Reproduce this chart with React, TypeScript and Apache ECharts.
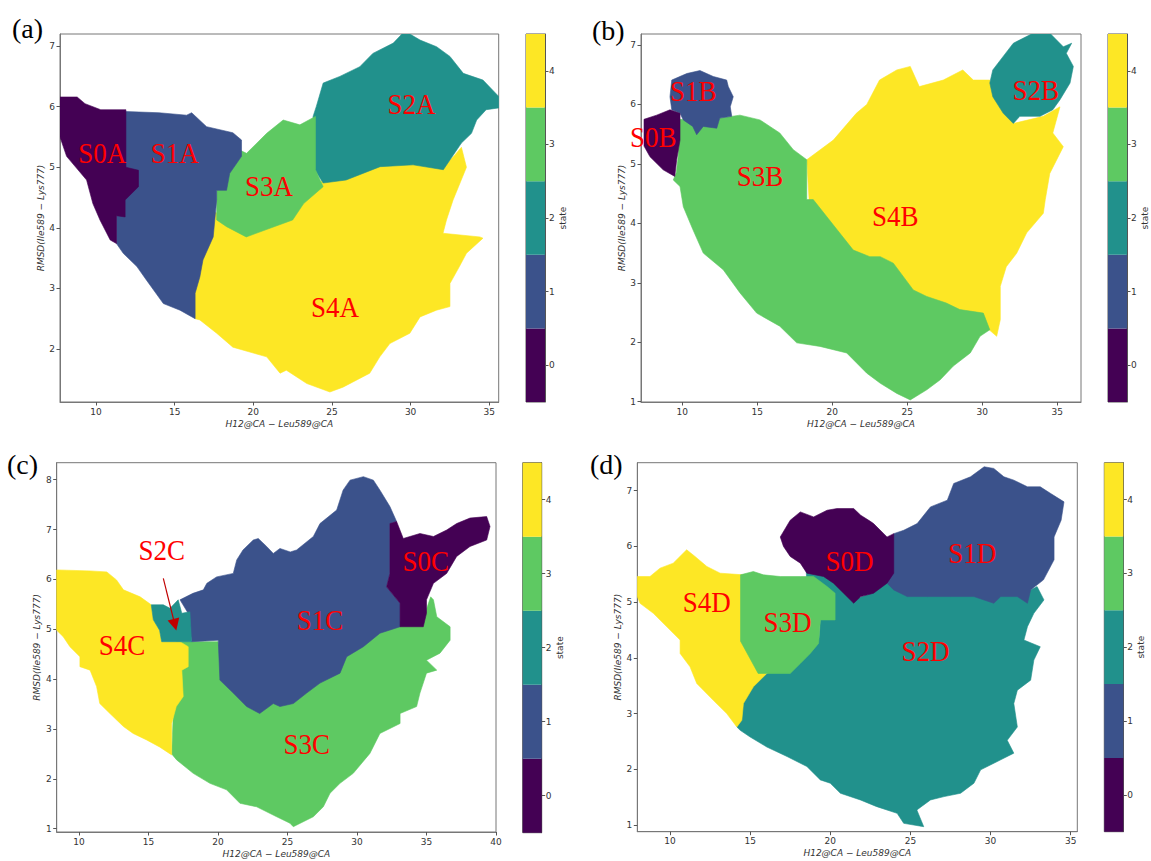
import React, { useEffect, useRef } from "react";
import * as echarts from "echarts";

// ---------- shared ----------
const stateLevels = [0, 1, 2, 3, 4];
const stateColors = ["#440154", "#3b528b", "#21918c", "#5ec962", "#fde725"];
const colorbarTicks = [0, 1, 2, 3, 4];
const xAxisName = "H12@CA \u2212 Leu589@CA";
const yAxisName = "RMSD(Ile589 \u2212 Lys777)";
const colorbarName = "state";

// ---------- panel (a) ----------
const A_xRange = [7.71, 35.6];
const A_yRange = [1.125, 7.2];
const A_xTicks = [10, 15, 20, 25, 30, 35];
const A_yTicks = [2, 3, 4, 5, 6, 7];
const A_S4 = [[17.0,4.25],[17.67,4.25],[18.3,4.1],[19.55,3.92],[22.3,4.2],[23.2,4.48],[24.44,4.8],[25.9,4.85],[28.06,5.06],[30.16,5.1],[32.08,5.0],[32.8,5.2],[33.23,5.33],[33.55,5.0],[32.7,4.46],[32.28,4.13],[32.06,3.91],[34.4,3.85],[34.6,3.83],[33.55,3.58],[33.1,3.36],[32.5,3.08],[32.5,2.7],[31.64,2.64],[30.6,2.53],[29.95,2.26],[28.68,2.09],[28.04,1.87],[27.4,1.6],[25.7,1.37],[24.87,1.29],[23.4,1.43],[22.1,1.65],[21.7,1.6],[20.85,1.87],[18.7,2.03],[17.67,2.26],[16.6,2.48],[16.3,2.5],[16.1,3.0],[16.5,3.5]];
const A_S2 = [[23.8,5.84],[24.0,6.0],[24.44,6.39],[25.5,6.5],[26.77,6.66],[27.6,6.88],[28.9,7.05],[29.63,7.25],[30.6,7.1],[31.65,6.99],[32.5,6.83],[33.35,6.55],[34.6,6.44],[35.6,6.17],[35.6,5.98],[34.8,5.95],[34.2,5.78],[33.87,5.56],[33.23,5.4],[32.5,5.12],[32.08,4.96],[30.16,5.04],[28.06,5.01],[25.9,4.79],[24.44,4.74],[23.9,4.96]];
const A_S3 = [[17.67,4.13],[17.67,5.1],[19.0,5.3],[19.57,5.23],[20.85,5.56],[21.9,5.78],[22.96,5.7],[23.95,5.84],[23.95,4.96],[24.44,4.68],[23.2,4.4],[22.5,4.13],[19.55,3.85],[18.3,4.02]];
const A_S1 = [[11.3,5.93],[11.9,5.92],[14.0,5.9],[15.76,5.86],[16.08,5.9],[17.03,5.67],[18.7,5.57],[19.25,5.45],[19.25,5.18],[18.5,4.9],[18.3,4.62],[17.67,4.62],[17.67,4.46],[17.45,3.85],[16.8,3.47],[16.6,3.19],[16.3,2.92],[16.3,2.5],[15.34,2.64],[14.28,2.75],[13.2,3.14],[12.6,3.36],[11.73,3.58],[11.3,3.74]];
const A_S0 = [[7.71,6.16],[8.8,6.16],[9.3,6.05],[10.3,5.95],[11.9,5.95],[11.9,5.0],[12.7,4.95],[12.7,4.68],[11.85,4.46],[11.85,4.18],[11.3,4.2],[11.3,3.74],[10.9,3.8],[10.25,4.13],[9.8,4.4],[9.4,4.79],[8.13,5.18],[7.71,5.5]];
const A_labels = [[10.4,5.24,"S0A"],[15.0,5.24,"S1A"],[21.0,4.69,"S3A"],[30.05,6.05,"S2A"],[25.2,2.7,"S4A"]];

// ---------- panel (b) ----------
const B_xRange = [7.25, 36.58];
const B_yRange = [0.995, 7.185];
const B_xTicks = [10, 15, 20, 25, 30, 35];
const B_yTicks = [1, 2, 3, 4, 5, 6, 7];
const B_S4 = [[18.3,5.07],[20.07,5.4],[21.6,5.85],[22.3,6.0],[23.15,6.41],[24.3,6.58],[25.2,6.64],[25.8,6.3],[27.4,6.41],[28.7,6.58],[29.4,6.41],[30.5,6.41],[30.7,6.19],[32.07,5.68],[34.07,5.8],[35.18,5.96],[34.7,5.52],[35.4,5.29],[34.5,4.84],[34.2,4.4],[34.07,4.17],[32.96,3.84],[32.3,3.5],[31.6,3.27],[31.2,2.94],[31.2,2.38],[30.96,2.1],[30.5,2.2],[28.5,2.4],[24.0,3.0],[21.0,3.4],[18.5,4.2]];
const B_S3 = [[9.85,5.75],[10.5,5.74],[12.5,5.77],[13.85,5.82],[15.18,5.74],[16.5,5.52],[17.4,5.24],[18.3,5.07],[18.3,4.4],[18.73,4.4],[20.3,3.9],[21.4,3.55],[22.5,3.44],[23.2,3.44],[24.07,3.33],[25.4,2.88],[26.3,2.77],[27.6,2.66],[28.5,2.55],[30.07,2.49],[30.5,2.21],[29.85,2.1],[29.2,1.82],[28.07,1.6],[27.2,1.37],[26.3,1.2],[25.2,1.03],[24.3,1.14],[23.2,1.31],[22.3,1.48],[20.96,1.82],[19.18,1.93],[17.63,1.99],[16.5,2.27],[14.96,2.49],[13.85,2.83],[12.73,3.22],[11.4,3.5],[10.7,3.9],[10.07,4.28],[9.85,4.62],[9.4,4.73],[9.6,4.85],[9.73,5.12]];
const B_S1 = [[9.18,6.13],[9.3,6.41],[10.3,6.52],[11.18,6.57],[12.07,6.47],[12.96,6.41],[13.07,6.3],[13.4,6.13],[13.2,5.96],[13.3,5.8],[12.5,5.77],[12.3,5.6],[11.4,5.63],[10.96,5.49],[10.7,5.63],[10.07,5.74],[9.85,5.85],[9.3,5.91]];
const B_S0 = [[7.45,5.75],[8.29,5.82],[9.18,5.91],[9.85,5.85],[9.85,5.4],[9.63,5.07],[9.5,4.79],[8.73,4.9],[7.85,5.12],[7.45,5.3]];
const B_S2 = [[30.5,6.36],[30.7,6.58],[32.07,7.03],[33.4,7.2],[34.5,7.2],[35.4,6.97],[35.96,7.03],[35.6,6.86],[36.07,6.64],[35.85,6.36],[35.18,6.08],[34.7,5.91],[33.85,5.8],[32.5,5.8],[32.07,5.68],[31.4,5.85],[30.7,6.13]];
const B_labels = [[8.07,5.46,"S0B"],[10.73,6.22,"S1B"],[15.18,4.79,"S3B"],[24.2,4.13,"S4B"],[33.56,6.24,"S2B"]];

// ---------- panel (c) ----------
const C_xRange = [8.4, 40];
const C_yRange = [0.934, 8.34];
const C_xTicks = [10, 15, 20, 25, 30, 35, 40];
const C_yTicks = [1, 2, 3, 4, 5, 6, 7, 8];
const C_S3 = [[17.0,4.75],[20.0,4.75],[21.0,3.9],[23.0,3.5],[25.0,3.6],[28.0,4.3],[30.5,4.8],[33.1,5.15],[34.77,5.1],[35.0,5.4],[35.3,5.65],[35.5,5.59],[35.74,5.25],[36.7,5.05],[36.7,4.78],[35.97,4.52],[35.0,4.38],[35.74,4.18],[35.0,4.12],[34.53,3.72],[34.29,3.45],[33.1,3.31],[33.1,3.11],[31.65,2.91],[30.93,2.51],[29.73,2.11],[28.78,1.91],[28.06,1.71],[27.58,1.44],[26.86,1.24],[25.42,1.04],[25.18,1.11],[24.22,1.24],[22.78,1.44],[21.58,1.51],[20.62,1.78],[19.42,1.91],[18.22,2.11],[17.03,2.38],[16.67,2.5]];
const C_S1 = [[17.27,5.59],[18.2,5.72],[18.95,5.79],[19.2,5.92],[19.9,6.05],[21.1,6.12],[21.35,6.39],[21.8,6.59],[22.54,6.79],[22.9,6.82],[23.5,6.66],[23.98,6.52],[24.46,6.62],[25.2,6.55],[25.66,6.59],[26.86,6.86],[27.34,7.12],[28.54,7.39],[29.0,7.79],[29.5,7.99],[30.46,8.06],[31.18,7.99],[31.65,7.79],[32.37,7.46],[32.85,7.16],[32.37,7.12],[32.37,6.12],[32.13,5.85],[33.1,5.52],[33.1,5.05],[31.65,4.92],[30.46,4.65],[29.26,4.45],[28.78,4.12],[27.34,3.92],[26.38,3.72],[25.42,3.51],[24.46,3.45],[23.98,3.51],[23.0,3.31],[22.06,3.45],[21.1,3.72],[20.14,3.98],[20.02,4.78],[18.1,4.75],[17.9,5.3]];
const C_S0 = [[32.37,7.12],[32.85,7.16],[33.33,6.82],[34.53,6.92],[35.5,6.86],[36.45,6.99],[37.17,7.12],[38.13,7.23],[39.33,7.26],[39.57,7.06],[39.33,6.79],[38.13,6.66],[37.17,6.46],[36.45,6.12],[35.5,5.92],[35.0,5.59],[35.0,5.32],[34.77,5.05],[33.1,5.05],[33.1,5.52],[32.13,5.85],[32.37,6.12]];
const C_S4 = [[8.4,6.19],[10.8,6.17],[12.0,6.15],[12.7,5.99],[13.2,5.79],[14.4,5.65],[15.2,5.49],[15.35,5.19],[15.8,4.98],[15.95,4.75],[17.27,4.75],[17.86,4.65],[17.86,4.25],[17.4,4.18],[17.5,3.65],[17.0,3.45],[16.67,3.11],[16.67,2.48],[15.8,2.64],[14.87,2.78],[13.9,2.91],[13.2,3.05],[12.23,3.31],[11.5,3.51],[11.27,3.85],[10.8,4.18],[10.07,4.25],[10.07,4.45],[9.35,4.65],[8.87,4.85],[8.4,4.98]];
const C_S2 = [[15.2,5.49],[16.07,5.49],[16.55,5.42],[17.14,5.59],[17.4,5.32],[17.98,5.35],[18.1,4.75],[15.95,4.75],[15.8,4.98],[15.35,5.19]];
const C_labels = [[15.95,6.59,"S2C"],[13.1,4.68,"S4C"],[27.34,5.19,"S1C"],[34.94,6.36,"S0C"],[26.38,2.7,"S3C"]];
const C_arrow = [[16.07,6.02],[16.9,5.09]];

// ---------- panel (d) ----------
const D_xRange = [7.96, 35.41];
const D_yRange = [0.88, 7.503];
const D_xTicks = [10, 15, 20, 25, 30, 35];
const D_yTicks = [1, 2, 3, 4, 5, 6, 7];
const D_S2 = [[14.17,2.76],[14.6,3.3],[15.4,3.6],[16.5,3.8],[17.5,3.8],[18.7,4.15],[19.3,4.35],[19.4,4.75],[18.6,5.0],[18.5,5.56],[19.6,5.52],[20.3,5.38],[20.9,5.2],[21.5,5.05],[22.5,5.15],[23.5,5.4],[24.0,5.3],[26.0,5.25],[30.0,5.2],[32.08,5.15],[32.9,5.28],[33.33,5.04],[32.7,4.8],[32.3,4.56],[32.08,4.32],[33.1,4.2],[32.7,3.96],[32.5,3.6],[31.67,3.42],[31.45,3.18],[31.67,2.76],[31.04,2.52],[31.45,2.29],[30.63,2.17],[29.38,1.99],[28.96,1.75],[28.13,1.57],[27.1,1.51],[26.25,1.45],[25.4,1.27],[25.83,0.97],[24.58,1.03],[24.17,1.21],[22.9,1.33],[21.88,1.45],[20.63,1.57],[20.0,1.75],[19.38,1.81],[18.54,2.05],[17.3,2.23],[16.04,2.4],[15.0,2.58],[14.38,2.7]];
const D_S1 = [[23.96,6.23],[24.58,6.29],[25.42,6.41],[26.25,6.71],[27.3,6.83],[27.7,7.13],[28.75,7.25],[29.6,7.43],[30.2,7.4],[30.83,7.25],[31.45,7.19],[32.3,7.07],[33.1,7.07],[33.75,6.95],[34.58,6.8],[34.4,6.47],[33.96,6.17],[33.96,5.76],[33.3,5.4],[32.5,5.22],[32.3,4.98],[31.67,5.1],[30.63,5.1],[30.2,4.98],[28.96,5.1],[27.5,5.1],[26.04,5.1],[24.8,5.1],[23.96,5.22],[23.54,5.34],[23.5,6.0]];
const D_S0 = [[16.88,6.17],[17.5,6.47],[18.13,6.62],[18.96,6.53],[19.8,6.65],[20.42,6.68],[21.46,6.68],[21.9,6.56],[22.5,6.45],[22.7,6.41],[23.54,6.17],[23.96,6.23],[23.96,5.52],[23.54,5.34],[22.7,5.16],[21.9,5.1],[21.46,4.98],[20.83,5.16],[20.2,5.34],[19.58,5.46],[18.54,5.52],[18.13,5.7],[17.5,5.82],[17.08,6.0]];
const D_S4 = [[7.96,5.46],[8.75,5.46],[9.38,5.61],[10.2,5.7],[11.04,5.94],[11.56,5.82],[12.3,5.64],[13.13,5.52],[14.58,5.49],[14.58,4.32],[15.2,4.14],[15.94,3.96],[16.04,3.72],[15.2,3.48],[14.58,3.18],[14.48,2.88],[14.17,2.76],[13.54,3.0],[12.7,3.24],[11.67,3.54],[11.25,3.84],[10.63,4.08],[10.63,4.32],[9.8,4.56],[8.96,4.8],[8.13,4.98],[7.96,5.1]];
const D_S3 = [[14.4,5.49],[15.2,5.55],[15.83,5.49],[16.88,5.46],[18.13,5.46],[18.96,5.46],[19.8,5.28],[20.3,5.16],[20.3,4.68],[19.38,4.68],[19.27,4.26],[18.75,4.08],[18.13,3.9],[17.5,3.72],[16.04,3.72],[15.5,3.72],[14.4,4.3]];
const D_labels = [[12.29,5.0,"S4D"],[17.33,4.64,"S3D"],[21.2,5.74,"S0D"],[28.85,5.88,"S1D"],[25.94,4.13,"S2D"]];

type Pt = number[];

const panels = [
  { letter: "(a)", letterPos: [12, 28], grid: [60, 34, 438.7, 368], cbar: [526, 34, 19, 368],
    xRange: A_xRange, yRange: A_yRange, xTicks: A_xTicks, yTicks: A_yTicks,
    regions: [[A_S4, 4], [A_S2, 2], [A_S3, 3], [A_S1, 1], [A_S0, 0]], labels: A_labels, arrow: null },
  { letter: "(b)", letterPos: [592, 30], grid: [641, 34, 440, 368], cbar: [1108, 34, 19, 368],
    xRange: B_xRange, yRange: B_yRange, xTicks: B_xTicks, yTicks: B_yTicks,
    regions: [[B_S4, 4], [B_S3, 3], [B_S1, 1], [B_S0, 0], [B_S2, 2]], labels: B_labels, arrow: null },
  { letter: "(c)", letterPos: [7, 464], grid: [56.7, 462.7, 439.3, 369.3], cbar: [522.7, 462.7, 19, 370],
    xRange: C_xRange, yRange: C_yRange, xTicks: C_xTicks, yTicks: C_yTicks,
    regions: [[C_S3, 3], [C_S1, 1], [C_S0, 0], [C_S4, 4], [C_S2, 2]], labels: C_labels, arrow: C_arrow },
  { letter: "(d)", letterPos: [590, 464], grid: [637.3, 462.7, 440, 369], cbar: [1104.3, 462.7, 19, 369],
    xRange: D_xRange, yRange: D_yRange, xTicks: D_xTicks, yTicks: D_yTicks,
    regions: [[D_S2, 2], [D_S1, 1], [D_S0, 0], [D_S4, 4], [D_S3, 3]], labels: D_labels, arrow: null },
];

const tickFont = { fontSize: 9, color: "#333", fontFamily: "DejaVu Sans" };

function buildOption() {
  const grid: any[] = [];
  const xAxis: any[] = [];
  const yAxis: any[] = [];
  const series: any[] = [];
  const graphic: any[] = [];

  panels.forEach((p, i) => {
    const gi = i * 2;
    const ci = i * 2 + 1;
    grid.push({ left: p.grid[0], top: p.grid[1], width: p.grid[2], height: p.grid[3], show: true,
      borderColor: "#777", borderWidth: 1, backgroundColor: "#ffffff", containLabel: false });
    grid.push({ left: p.cbar[0], top: p.cbar[1], width: p.cbar[2], height: p.cbar[3], show: true,
      borderColor: "#555", borderWidth: 1, backgroundColor: "#ffffff", containLabel: false });

    xAxis.push({
      type: "value", gridIndex: gi, min: p.xRange[0], max: p.xRange[1],
      axisLine: { show: true, onZero: false, lineStyle: { color: "#777", width: 1 } },
      axisTick: { show: true, inside: false, length: 3.5, lineStyle: { color: "#555" }, customValues: p.xTicks },
      axisLabel: { ...tickFont, margin: 5, customValues: p.xTicks },
      splitLine: { show: false },
      name: xAxisName, nameLocation: "middle", nameGap: 17,
      nameTextStyle: { fontSize: 9, fontStyle: "italic", fontFamily: "DejaVu Sans", color: "#333" },
    });
    yAxis.push({
      type: "value", gridIndex: gi, min: p.yRange[0], max: p.yRange[1],
      axisLine: { show: true, onZero: false, lineStyle: { color: "#777", width: 1 } },
      axisTick: { show: true, inside: false, length: 3.5, lineStyle: { color: "#555" }, customValues: p.yTicks },
      axisLabel: { ...tickFont, margin: 5, customValues: p.yTicks },
      splitLine: { show: false },
      name: yAxisName, nameLocation: "middle", nameGap: 15,
      nameTextStyle: { fontSize: 9, fontStyle: "italic", fontFamily: "DejaVu Sans", color: "#333" },
    });
    xAxis.push({ type: "value", gridIndex: ci, min: 0, max: 1, show: false });
    yAxis.push({
      type: "value", gridIndex: ci, min: -0.5, max: 4.5, position: "right",
      axisLine: { show: true, onZero: false, lineStyle: { color: "#555" } },
      axisTick: { show: true, inside: false, length: 3.5, lineStyle: { color: "#555" }, customValues: colorbarTicks },
      axisLabel: { ...tickFont, margin: 4, customValues: colorbarTicks },
      splitLine: { show: false },
      name: colorbarName, nameLocation: "middle", nameGap: 13,
      nameTextStyle: { fontSize: 9, fontFamily: "DejaVu Sans", color: "#333" },
    });

    // regions
    p.regions.forEach((r: any) => {
      const pts: Pt[] = r[0];
      const color = stateColors[r[1]];
      series.push({
        type: "custom", coordinateSystem: "cartesian2d", xAxisIndex: gi, yAxisIndex: gi,
        clip: true, silent: true,
        data: pts,
        renderItem: (params: any, api: any) => {
          if (params.dataIndex !== 0) return null;
          const points = pts.map((q) => api.coord(q));
          return { type: "polygon", shape: { points }, style: { fill: color, stroke: color, lineWidth: 0.6 } };
        },
      });
    });

    // colorbar
    series.push({
      type: "custom", coordinateSystem: "cartesian2d", xAxisIndex: ci, yAxisIndex: ci, silent: true,
      data: stateLevels.map((s) => [0.5, s]),
      renderItem: (params: any, api: any) => {
        const s = api.value(1);
        const a = api.coord([0, s + 0.5]);
        const b = api.coord([1, s - 0.5]);
        return { type: "rect", shape: { x: a[0], y: a[1], width: b[0] - a[0], height: b[1] - a[1] },
          style: { fill: stateColors[s] } };
      },
    });

    // arrow
    if (p.arrow) {
      series.push({
        type: "lines", coordinateSystem: "cartesian2d", xAxisIndex: gi, yAxisIndex: gi, silent: true, z: 6,
        symbol: ["none", "triangle"], symbolSize: [9, 12],
        lineStyle: { color: "#c00000", width: 1.2, opacity: 1 },
        itemStyle: { color: "#c00000" },
        data: [{ coords: p.arrow }],
      });
    }

    // labels
    const labs: any[] = p.labels;
    series.push({
      type: "custom", coordinateSystem: "cartesian2d", xAxisIndex: gi, yAxisIndex: gi, silent: true,
      clip: false, z: 5,
      data: labs.map((l) => [l[0], l[1]]),
      renderItem: (params: any, api: any) => {
        const c = api.coord([api.value(0), api.value(1)]);
        return { type: "text", x: c[0], y: c[1], scaleX: 0.9,
          style: { text: labs[params.dataIndex][2], font: '30px "Liberation Serif"', fill: "#ff0000",
            align: "center", verticalAlign: "middle" } };
      },
    });

    graphic.push({ type: "text", x: p.letterPos[0], y: p.letterPos[1],
      style: { text: p.letter, font: '28px "Liberation Serif"', fill: "#000", align: "left", verticalAlign: "middle" } });
  });

  return { animation: false, backgroundColor: "#ffffff", grid, xAxis, yAxis, series, graphic };
}

export default function App() {
  const ref = useRef<HTMLDivElement>(null);
  useEffect(() => {
    if (!ref.current) return;
    const chart = echarts.init(ref.current, null, { renderer: "svg" });
    chart.setOption(buildOption() as any);
    return () => chart.dispose();
  }, []);
  return <div ref={ref} style={{ position: "fixed", left: 0, top: 0, width: 1151, height: 861, background: "#fff" }} />;
}
